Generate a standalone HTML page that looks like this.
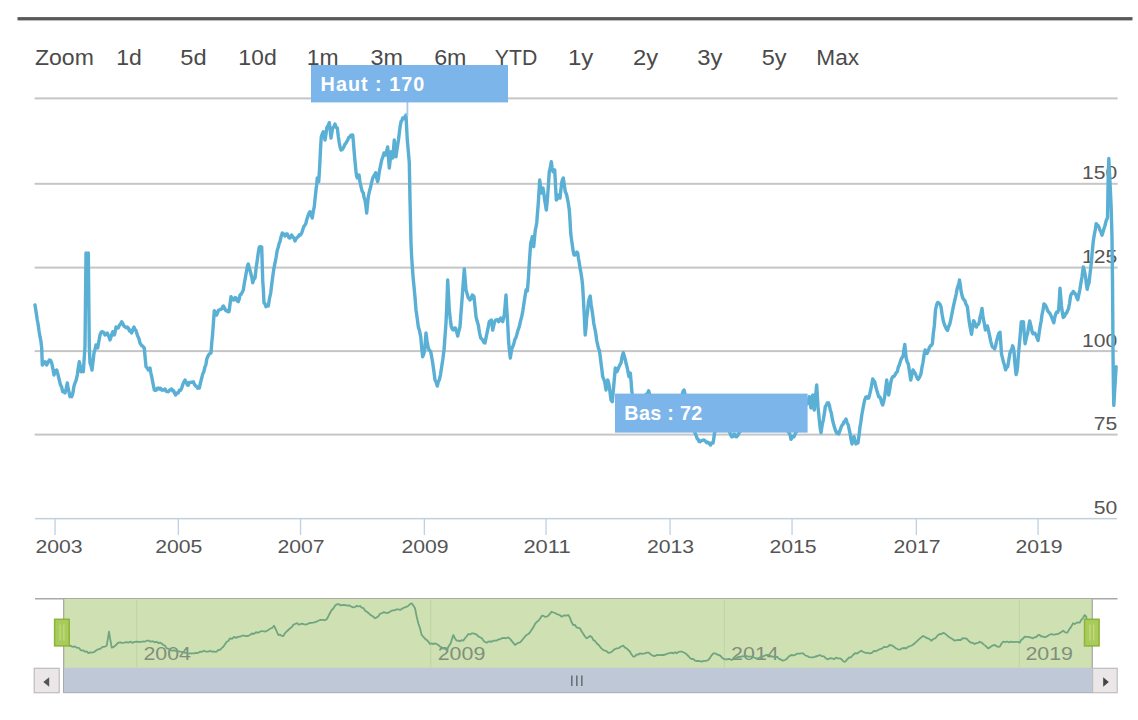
<!DOCTYPE html>
<html><head><meta charset="utf-8">
<style>
html,body{margin:0;padding:0;background:#fff;}
body{width:1138px;height:720px;overflow:hidden;position:relative;font-family:"Liberation Sans",sans-serif;}
svg{position:absolute;left:0;top:0;display:block;}
text{font-family:"Liberation Sans",sans-serif;}
</style></head><body>
<svg width="1138" height="720" viewBox="0 0 1138 720">
<rect x="0" y="0" width="1138" height="720" fill="#ffffff"/>
<!-- top rule -->
<rect x="17.5" y="17.1" width="1115" height="3.3" fill="#585858"/>

<rect x="34.6" y="97.4" width="1083" height="2" fill="#c6c6c6"/>
<rect x="34.6" y="182.8" width="1083" height="2" fill="#c6c6c6"/>
<rect x="34.6" y="266.6" width="1083" height="2" fill="#c6c6c6"/>
<rect x="34.6" y="350.1" width="1083" height="2" fill="#c6c6c6"/>
<rect x="34.6" y="433.6" width="1083" height="2" fill="#c6c6c6"/>
<rect x="35" y="517.9" width="1082" height="1.5" fill="#c0d0e0"/>
<rect x="54.4" y="518" width="1.3" height="17" fill="#c0d0e0"/>
<rect x="177.7" y="518" width="1.3" height="17" fill="#c0d0e0"/>
<rect x="299.9" y="518" width="1.3" height="17" fill="#c0d0e0"/>
<rect x="423.7" y="518" width="1.3" height="17" fill="#c0d0e0"/>
<rect x="545.4" y="518" width="1.3" height="17" fill="#c0d0e0"/>
<rect x="669.4" y="518" width="1.3" height="17" fill="#c0d0e0"/>
<rect x="791.4" y="518" width="1.3" height="17" fill="#c0d0e0"/>
<rect x="915.7" y="518" width="1.3" height="17" fill="#c0d0e0"/>
<rect x="1037.4" y="518" width="1.3" height="17" fill="#c0d0e0"/>
<text x="35" y="64.6" font-size="21.4" fill="#4a4a4a" textLength="58.8" lengthAdjust="spacingAndGlyphs">Zoom</text>
<text x="116.3" y="64.6" font-size="21.4" fill="#4a4a4a" textLength="25.6" lengthAdjust="spacingAndGlyphs">1d</text>
<text x="180.3" y="64.6" font-size="21.4" fill="#4a4a4a" textLength="26.3" lengthAdjust="spacingAndGlyphs">5d</text>
<text x="238.3" y="64.6" font-size="21.4" fill="#4a4a4a" textLength="38.5" lengthAdjust="spacingAndGlyphs">10d</text>
<text x="306.8" y="64.6" font-size="21.4" fill="#4a4a4a" textLength="31.8" lengthAdjust="spacingAndGlyphs">1m</text>
<text x="370.5" y="64.6" font-size="21.4" fill="#4a4a4a" textLength="32.5" lengthAdjust="spacingAndGlyphs">3m</text>
<text x="434.2" y="64.6" font-size="21.4" fill="#4a4a4a" textLength="32.3" lengthAdjust="spacingAndGlyphs">6m</text>
<text x="494.8" y="64.6" font-size="21.4" fill="#4a4a4a" textLength="42.5" lengthAdjust="spacingAndGlyphs">YTD</text>
<text x="568" y="64.6" font-size="21.4" fill="#4a4a4a" textLength="25.3" lengthAdjust="spacingAndGlyphs">1y</text>
<text x="633" y="64.6" font-size="21.4" fill="#4a4a4a" textLength="25.1" lengthAdjust="spacingAndGlyphs">2y</text>
<text x="697.2" y="64.6" font-size="21.4" fill="#4a4a4a" textLength="25.1" lengthAdjust="spacingAndGlyphs">3y</text>
<text x="761.7" y="64.6" font-size="21.4" fill="#4a4a4a" textLength="24.8" lengthAdjust="spacingAndGlyphs">5y</text>
<text x="816.3" y="64.6" font-size="21.4" fill="#4a4a4a" textLength="42.8" lengthAdjust="spacingAndGlyphs">Max</text>
<text x="1117.3" y="179.4" font-size="18.3" fill="#555" text-anchor="end" textLength="35.2" lengthAdjust="spacingAndGlyphs">150</text>
<text x="1117.3" y="263.2" font-size="18.3" fill="#555" text-anchor="end" textLength="35.2" lengthAdjust="spacingAndGlyphs">125</text>
<text x="1117.3" y="346.7" font-size="18.3" fill="#555" text-anchor="end" textLength="35.2" lengthAdjust="spacingAndGlyphs">100</text>
<text x="1117.3" y="430.2" font-size="18.3" fill="#555" text-anchor="end" textLength="23.5" lengthAdjust="spacingAndGlyphs">75</text>
<text x="1117.3" y="514.4" font-size="18.3" fill="#555" text-anchor="end" textLength="23.5" lengthAdjust="spacingAndGlyphs">50</text>
<text x="59.0" y="552.7" font-size="18.6" fill="#555" text-anchor="middle" textLength="47.2" lengthAdjust="spacingAndGlyphs">2003</text>
<text x="178.8" y="552.7" font-size="18.6" fill="#555" text-anchor="middle" textLength="47.2" lengthAdjust="spacingAndGlyphs">2005</text>
<text x="301.0" y="552.7" font-size="18.6" fill="#555" text-anchor="middle" textLength="47.2" lengthAdjust="spacingAndGlyphs">2007</text>
<text x="425.0" y="552.7" font-size="18.6" fill="#555" text-anchor="middle" textLength="47.2" lengthAdjust="spacingAndGlyphs">2009</text>
<text x="547.0" y="552.7" font-size="18.6" fill="#555" text-anchor="middle" textLength="47.2" lengthAdjust="spacingAndGlyphs">2011</text>
<text x="670.5" y="552.7" font-size="18.6" fill="#555" text-anchor="middle" textLength="47.2" lengthAdjust="spacingAndGlyphs">2013</text>
<text x="793.0" y="552.7" font-size="18.6" fill="#555" text-anchor="middle" textLength="47.2" lengthAdjust="spacingAndGlyphs">2015</text>
<text x="917.0" y="552.7" font-size="18.6" fill="#555" text-anchor="middle" textLength="47.2" lengthAdjust="spacingAndGlyphs">2017</text>
<text x="1039.0" y="552.7" font-size="18.6" fill="#555" text-anchor="middle" textLength="47.2" lengthAdjust="spacingAndGlyphs">2019</text>
<path d="M35.0 305.0 L36.1 312.0 L37.3 320.0 L38.2 324.7 L39.1 331.5 L40.0 336.7 L40.9 341.2 L41.7 348.0 L42.3 365.0 L43.2 364.0 L44.1 362.5 L45.0 361.7 L45.9 362.2 L46.7 365.0 L48.0 362.5 L49.3 360.0 L50.5 360.3 L51.7 363.0 L52.9 368.8 L54.0 375.0 L54.9 372.2 L55.8 370.6 L56.7 370.0 L58.0 374.8 L59.3 380.0 L60.4 384.7 L61.6 386.8 L62.7 391.7 L63.9 391.6 L65.0 393.0 L66.2 388.3 L67.3 383.0 L68.2 388.7 L69.1 392.3 L70.0 396.7 L70.8 396.4 L71.7 396.7 L72.8 393.4 L73.9 386.4 L75.0 383.0 L76.2 379.9 L77.3 375.0 L78.3 367.8 L79.3 361.7 L80.2 365.8 L81.0 371.7 L82.2 370.7 L83.3 371.7 L84.2 358.7 L85.0 346.7 L86.0 253.0 L87.2 253.8 L88.3 253.0 L89.3 346.7 L90.0 363.0 L91.0 365.7 L92.0 370.0 L93.0 361.7 L94.0 353.0 L95.0 349.4 L96.0 345.0 L96.8 346.2 L97.7 348.0 L98.8 341.6 L100.0 335.0 L100.9 332.8 L101.8 331.7 L102.7 331.7 L103.8 332.6 L105.0 335.0 L106.2 334.5 L107.3 333.0 L108.2 335.1 L109.1 337.2 L110.0 340.0 L110.9 337.5 L111.8 334.3 L112.7 331.7 L113.5 332.8 L114.3 335.0 L115.2 331.8 L116.0 327.0 L117.2 328.0 L118.3 328.0 L119.4 325.2 L120.6 324.0 L121.7 321.7 L122.8 323.4 L123.9 326.0 L125.0 326.7 L126.1 327.7 L127.2 327.0 L128.3 328.0 L129.4 330.9 L130.6 330.3 L131.7 333.0 L132.8 329.8 L134.0 327.0 L134.9 329.7 L135.8 330.1 L136.7 333.0 L137.8 336.3 L138.9 338.5 L140.0 343.0 L140.9 344.4 L141.8 345.7 L142.7 346.0 L143.5 347.2 L144.3 348.0 L145.2 358.3 L146.0 366.7 L147.2 367.9 L148.3 370.0 L149.2 369.5 L150.0 368.0 L150.8 372.6 L151.7 376.7 L152.6 381.3 L153.4 385.5 L154.3 390.0 L155.3 390.4 L156.3 390.2 L157.3 388.4 L158.3 388.0 L159.4 389.1 L160.6 388.2 L161.7 390.0 L162.8 390.2 L163.9 389.7 L165.0 389.0 L166.1 391.2 L167.2 391.6 L168.3 391.7 L169.4 390.2 L170.6 389.6 L171.7 389.0 L172.7 390.9 L173.7 390.8 L174.7 393.4 L175.7 395.0 L176.6 393.5 L177.4 392.7 L178.3 393.0 L179.4 390.2 L180.6 390.4 L181.7 388.0 L182.8 384.4 L183.9 382.0 L185.0 380.0 L186.2 382.2 L187.3 385.0 L188.2 385.2 L189.1 382.4 L190.0 382.7 L191.1 382.2 L192.2 382.2 L193.3 381.7 L194.4 384.4 L195.6 385.9 L196.7 386.7 L197.6 388.1 L198.4 387.0 L199.3 388.0 L200.5 382.8 L201.7 378.0 L202.8 373.9 L203.9 371.5 L205.0 366.7 L205.9 364.6 L206.8 359.1 L207.7 356.7 L208.8 354.6 L209.9 353.5 L211.0 353.0 L211.8 342.3 L212.7 333.0 L213.5 321.8 L214.3 310.7 L215.5 313.1 L216.7 315.0 L217.6 312.7 L218.4 310.4 L219.3 310.0 L220.5 309.3 L221.7 309.0 L222.5 307.2 L223.3 306.0 L224.4 307.7 L225.6 310.3 L226.7 310.7 L227.8 311.7 L229.0 311.7 L230.0 304.2 L231.0 296.7 L232.2 298.7 L233.3 300.0 L234.2 299.8 L235.1 297.5 L236.0 298.0 L237.2 300.9 L238.3 301.7 L239.2 299.1 L240.0 295.0 L241.1 294.3 L242.2 292.4 L243.3 290.0 L244.4 283.1 L245.6 276.4 L246.7 270.0 L247.5 266.0 L248.3 264.0 L249.5 268.8 L250.7 273.0 L251.7 276.7 L252.7 282.7 L253.8 279.2 L255.0 278.0 L256.1 268.2 L257.3 260.0 L258.3 252.6 L259.3 247.0 L260.5 246.6 L261.7 247.0 L262.7 280.0 L263.4 290.3 L264.0 303.0 L265.0 303.6 L266.0 306.7 L267.1 305.4 L268.3 306.0 L269.5 298.5 L270.7 293.0 L271.7 284.5 L272.7 276.7 L273.9 268.6 L275.0 263.0 L276.1 257.5 L277.3 250.0 L278.2 247.5 L279.1 243.6 L280.0 241.7 L281.1 236.7 L282.3 233.0 L283.2 233.6 L284.1 234.6 L285.0 236.0 L286.1 234.0 L287.3 234.0 L288.2 236.2 L289.1 237.9 L290.0 238.0 L290.9 236.4 L291.7 235.0 L292.8 237.0 L293.9 237.9 L295.0 241.0 L296.1 238.5 L297.2 237.6 L298.3 236.5 L299.4 234.7 L300.6 235.0 L301.7 233.0 L302.8 229.5 L303.9 226.4 L305.0 225.0 L305.9 223.4 L306.8 219.5 L307.7 216.7 L308.9 213.3 L310.0 211.7 L311.1 215.0 L312.3 218.0 L313.3 211.1 L314.3 206.7 L315.1 198.4 L316.0 190.0 L316.6 185.2 L317.3 178.0 L318.0 180.8 L318.7 181.7 L319.4 171.4 L320.0 160.0 L320.6 147.7 L321.3 136.7 L322.3 133.9 L323.3 131.7 L324.1 135.0 L325.0 140.0 L325.9 134.7 L326.7 128.0 L327.6 126.3 L328.4 125.2 L329.3 122.7 L330.1 129.9 L331.0 138.0 L331.9 132.3 L332.7 128.0 L333.9 126.8 L335.0 124.0 L336.1 127.3 L337.3 128.0 L338.3 136.4 L339.3 143.0 L340.1 147.3 L341.0 150.0 L342.0 149.7 L343.0 148.4 L344.0 146.7 L344.9 144.3 L345.8 143.4 L346.7 141.7 L347.8 139.8 L348.9 137.3 L350.0 137.0 L350.9 135.1 L351.8 135.1 L352.7 135.0 L353.4 141.9 L354.0 150.0 L355.0 161.4 L356.0 171.7 L356.6 176.0 L357.3 178.0 L358.1 176.4 L359.0 175.0 L360.0 182.0 L361.0 186.7 L362.1 191.1 L363.3 193.0 L364.1 197.7 L365.0 200.0 L365.9 206.1 L366.7 213.0 L367.5 204.1 L368.3 196.7 L369.5 191.0 L370.7 186.7 L371.6 182.6 L372.4 179.3 L373.3 176.7 L374.5 175.0 L375.7 172.7 L376.7 178.2 L377.7 181.7 L378.5 177.6 L379.3 171.7 L380.5 165.8 L381.7 160.0 L382.9 156.9 L384.0 153.0 L385.0 154.8 L386.0 155.0 L386.9 149.9 L387.7 147.0 L388.5 157.9 L389.3 168.0 L390.1 160.9 L391.0 151.7 L391.9 155.6 L392.7 158.0 L393.5 149.7 L394.3 140.0 L395.1 148.3 L396.0 156.7 L396.9 150.0 L397.7 145.0 L398.5 139.8 L399.3 133.0 L400.1 126.9 L401.0 121.7 L401.9 120.6 L402.7 118.0 L403.9 118.6 L405.0 116.7 L406.0 115.0 L406.6 127.2 L407.3 140.0 L408.3 151.2 L409.3 163.0 L410.0 200.0 L411.0 243.0 L411.6 256.0 L412.3 266.7 L413.1 277.3 L414.0 286.7 L415.0 297.5 L416.0 310.0 L417.1 317.4 L418.3 326.7 L419.5 330.8 L420.7 336.7 L421.7 347.8 L422.7 356.7 L423.7 354.1 L424.7 350.0 L425.4 340.6 L426.0 333.0 L427.0 340.7 L428.0 346.7 L428.9 349.6 L429.8 350.4 L430.7 351.7 L431.7 357.0 L432.7 363.0 L433.9 371.6 L435.0 380.0 L436.1 382.0 L437.3 386.0 L438.3 381.7 L439.3 380.0 L440.5 374.6 L441.7 366.7 L442.9 358.7 L444.0 350.0 L445.0 336.6 L446.0 323.0 L446.9 302.6 L447.7 280.0 L448.5 294.8 L449.3 310.0 L450.3 319.3 L451.3 326.7 L452.3 329.2 L453.3 330.0 L454.3 328.2 L455.3 328.0 L456.5 331.4 L457.7 336.0 L458.9 330.8 L460.0 326.7 L461.0 312.7 L462.0 300.0 L463.1 284.7 L464.3 269.0 L465.1 278.9 L466.0 290.0 L467.1 293.8 L468.3 298.0 L469.1 298.0 L470.0 300.0 L471.1 298.6 L472.3 295.0 L473.1 295.5 L474.0 296.7 L475.0 306.6 L476.0 316.7 L477.1 321.1 L478.3 325.0 L479.5 332.6 L480.7 338.0 L481.7 338.8 L482.7 340.0 L483.9 342.6 L485.0 343.0 L486.1 337.4 L487.3 331.7 L488.3 326.8 L489.3 321.7 L490.3 320.9 L491.3 320.0 L492.0 323.7 L492.7 330.0 L493.7 325.7 L494.7 321.7 L495.7 320.0 L496.7 320.0 L497.7 319.6 L498.7 321.7 L499.7 320.6 L500.7 318.0 L501.7 319.0 L502.7 321.7 L503.5 318.3 L504.3 315.0 L505.1 305.6 L506.0 295.0 L506.6 306.0 L507.3 316.7 L508.0 329.4 L508.7 343.0 L509.5 350.5 L510.3 358.0 L511.1 353.1 L512.0 348.0 L513.0 346.2 L514.0 343.0 L514.9 339.3 L515.8 337.8 L516.7 335.0 L518.0 330.2 L519.3 326.7 L520.5 321.1 L521.7 316.7 L522.9 310.6 L524.0 303.0 L525.0 296.5 L526.0 290.0 L527.3 291.0 L528.3 280.0 L529.3 263.0 L530.0 253.2 L530.7 243.0 L531.5 240.5 L532.3 236.7 L533.0 242.8 L533.7 246.7 L534.5 238.2 L535.3 230.0 L536.0 226.8 L536.7 223.0 L537.5 213.0 L538.3 203.0 L539.0 191.5 L539.7 180.0 L540.5 187.0 L541.3 193.0 L542.1 190.4 L543.0 188.0 L543.9 194.1 L544.7 200.0 L545.5 204.9 L546.3 210.0 L547.0 203.6 L547.7 195.0 L548.5 183.9 L549.3 171.7 L550.3 167.7 L551.3 161.7 L552.1 167.8 L553.0 171.7 L553.9 170.2 L554.7 170.0 L555.5 185.2 L556.3 200.0 L557.3 198.7 L558.3 195.0 L559.1 197.4 L560.0 198.0 L560.9 189.6 L561.7 183.0 L562.5 179.5 L563.3 178.0 L564.3 184.7 L565.3 191.7 L566.3 193.7 L567.3 198.0 L568.3 203.3 L569.3 210.0 L570.0 220.4 L570.7 233.0 L571.5 239.4 L572.3 245.0 L573.1 250.7 L574.0 255.0 L575.0 255.0 L576.0 253.0 L576.9 252.1 L577.7 253.0 L578.5 258.6 L579.3 263.0 L580.1 268.4 L581.0 273.0 L581.9 278.9 L582.7 286.7 L584.0 310.0 L585.2 335.0 L586.0 327.5 L586.7 318.0 L587.6 311.1 L588.5 301.7 L589.4 298.1 L590.2 296.0 L591.1 304.2 L592.0 310.0 L592.9 316.2 L593.7 323.0 L594.7 328.0 L595.7 333.0 L596.7 340.3 L597.7 345.0 L598.5 348.4 L599.3 350.0 L600.1 355.6 L601.0 363.0 L601.9 369.7 L602.7 376.7 L603.7 379.2 L604.7 381.7 L606.0 390.0 L606.9 384.6 L607.7 380.0 L608.5 382.6 L609.3 386.7 L610.1 392.9 L611.0 400.0 L612.3 401.7 L613.1 392.9 L614.0 383.0 L615.3 368.0 L616.1 368.6 L617.0 371.7 L618.0 369.3 L619.0 366.7 L620.0 364.7 L621.0 363.0 L622.1 356.6 L623.3 352.7 L624.3 355.9 L625.3 360.0 L626.3 364.3 L627.3 368.0 L628.1 372.4 L629.0 376.7 L630.3 373.0 L631.0 380.4 L631.7 390.0 L632.7 398.0 L633.8 403.3 L634.9 406.7 L636.0 410.0 L637.0 410.0 L638.0 406.5 L639.0 405.6 L640.0 405.0 L641.0 402.1 L642.0 402.2 L643.0 399.2 L644.0 398.0 L645.2 395.2 L646.4 394.1 L647.5 393.6 L648.7 390.7 L649.8 395.3 L650.9 397.6 L652.0 402.0 L653.2 403.6 L654.5 408.1 L655.8 409.7 L657.0 412.0 L658.2 414.0 L659.5 413.9 L660.8 415.3 L662.0 418.0 L663.2 416.9 L664.4 414.6 L665.6 412.1 L666.8 412.7 L668.0 410.0 L669.2 409.1 L670.4 408.4 L671.6 405.3 L672.8 406.1 L674.0 404.0 L675.2 401.7 L676.4 402.5 L677.6 400.3 L678.8 398.8 L680.0 398.0 L681.0 396.1 L682.0 395.1 L683.0 391.4 L684.0 390.0 L685.0 394.0 L686.0 400.1 L687.0 405.0 L688.0 409.3 L689.0 414.0 L690.0 420.0 L691.0 421.8 L692.0 424.2 L693.0 428.0 L694.0 429.7 L695.0 433.0 L696.1 435.5 L697.3 439.0 L698.2 439.4 L699.1 441.5 L700.0 441.7 L701.1 440.6 L702.2 440.6 L703.3 440.0 L704.4 440.1 L705.6 441.4 L706.7 442.7 L708.0 442.2 L709.2 443.6 L710.5 445.0 L711.8 442.7 L713.0 443.0 L713.8 438.6 L714.5 433.0 L715.7 430.5 L716.8 426.9 L718.0 425.0 L719.0 425.7 L720.0 427.6 L721.0 426.2 L722.0 428.0 L723.0 427.8 L724.0 425.8 L725.0 425.0 L726.0 424.0 L727.0 427.1 L728.0 428.2 L729.0 430.8 L730.0 433.0 L730.9 435.3 L731.7 436.7 L732.9 436.6 L734.0 434.0 L734.9 434.5 L735.8 436.7 L736.7 436.7 L737.9 435.4 L739.0 433.0 L740.2 431.1 L741.5 428.3 L742.8 425.9 L744.0 424.0 L745.2 421.6 L746.4 420.6 L747.6 419.3 L748.8 419.8 L750.0 418.0 L751.2 418.2 L752.4 418.7 L753.6 419.3 L754.8 422.1 L756.0 422.0 L757.2 421.0 L758.4 418.4 L759.6 415.4 L760.8 413.3 L762.0 412.0 L763.2 413.1 L764.4 415.1 L765.6 415.9 L766.8 418.3 L768.0 420.0 L769.2 418.4 L770.4 419.2 L771.6 418.2 L772.8 416.1 L774.0 415.0 L775.2 416.1 L776.4 419.8 L777.6 419.9 L778.8 421.8 L780.0 424.0 L781.2 423.7 L782.5 425.7 L783.8 426.9 L785.0 428.0 L786.1 429.3 L787.1 429.7 L788.2 431.8 L789.3 433.0 L790.1 434.9 L791.0 439.3 L792.0 437.8 L793.0 436.5 L794.0 436.7 L794.9 434.8 L795.8 432.2 L796.7 431.7 L797.9 424.6 L799.0 420.0 L800.0 414.5 L801.0 409.3 L802.0 405.0 L803.0 402.9 L804.0 400.4 L805.0 398.0 L806.1 401.7 L807.3 404.0 L808.3 400.8 L809.3 396.7 L810.1 402.9 L811.0 408.0 L811.9 402.5 L812.7 395.0 L813.5 402.2 L814.3 410.0 L815.5 397.0 L816.7 385.0 L818.0 406.7 L819.3 420.0 L820.1 427.6 L821.0 432.7 L822.1 425.4 L823.3 420.0 L824.3 413.9 L825.3 406.7 L826.3 405.2 L827.3 403.0 L828.3 402.8 L829.3 405.0 L830.3 409.9 L831.3 413.0 L832.3 419.0 L833.3 423.0 L834.2 426.2 L835.1 429.4 L836.0 431.7 L836.9 433.3 L837.8 432.3 L838.7 434.0 L840.0 430.4 L841.3 426.7 L842.2 425.0 L843.1 424.2 L844.0 421.7 L845.0 421.1 L846.0 419.0 L847.1 422.8 L848.3 425.0 L849.1 429.2 L850.0 433.0 L851.0 439.5 L852.0 444.0 L853.0 440.8 L854.0 436.7 L855.0 440.9 L856.0 444.0 L857.0 442.8 L858.0 443.0 L859.3 433.0 L860.0 426.8 L860.7 423.0 L861.7 415.5 L862.7 410.0 L863.7 404.6 L864.7 400.0 L865.7 397.3 L866.7 396.7 L867.7 398.2 L868.7 398.0 L869.7 394.2 L870.7 390.0 L871.7 384.8 L872.7 379.0 L873.7 380.7 L874.7 381.7 L875.7 386.3 L876.7 390.0 L877.7 393.3 L878.7 396.7 L879.7 396.6 L880.7 399.0 L881.7 402.8 L882.7 405.0 L883.7 401.5 L884.7 396.7 L885.7 388.4 L886.7 380.0 L887.7 387.6 L888.7 395.0 L889.7 389.4 L890.7 383.0 L891.7 378.7 L892.7 376.7 L893.9 376.5 L895.0 375.0 L896.1 372.7 L897.3 371.7 L898.3 367.2 L899.3 365.0 L900.5 360.9 L901.7 358.0 L902.5 357.1 L903.3 355.0 L904.0 349.0 L904.8 344.5 L905.5 351.9 L906.2 358.0 L907.2 362.0 L908.2 363.6 L909.5 371.8 L910.7 380.0 L911.9 374.7 L913.0 370.0 L914.2 371.9 L915.5 374.0 L916.4 376.3 L917.3 378.4 L918.2 379.5 L919.1 378.0 L920.0 376.2 L920.9 374.0 L922.0 367.2 L923.0 362.5 L924.0 355.3 L925.1 350.0 L926.0 351.1 L927.0 353.5 L928.1 351.3 L929.3 347.9 L930.3 346.0 L931.4 345.3 L932.4 343.7 L933.3 333.6 L934.3 326.0 L935.5 310.0 L936.7 304.5 L937.7 302.5 L938.7 302.8 L939.9 304.1 L941.0 306.7 L942.1 314.3 L943.3 321.0 L944.4 324.5 L945.5 327.0 L946.5 329.2 L947.5 330.5 L948.6 326.7 L949.8 324.0 L950.8 319.5 L951.7 315.0 L952.7 309.9 L953.7 305.0 L955.0 299.4 L956.2 294.0 L957.1 289.0 L958.0 286.0 L958.8 284.0 L959.5 280.0 L960.3 284.9 L961.1 291.4 L962.0 295.4 L962.9 298.1 L963.8 299.7 L964.8 300.5 L965.9 303.9 L966.6 305.3 L967.4 307.0 L968.3 314.5 L969.2 321.6 L970.1 327.0 L970.8 330.5 L971.5 334.3 L972.5 326.9 L973.6 320.7 L974.5 322.0 L975.5 326.1 L976.4 327.0 L977.3 324.8 L978.2 324.4 L979.1 322.8 L980.1 317.1 L981.0 313.3 L982.0 308.5 L982.9 315.8 L983.7 320.7 L984.5 324.4 L985.4 330.0 L986.4 328.8 L987.4 325.9 L988.5 330.6 L989.5 335.3 L990.8 341.6 L992.0 345.8 L992.9 347.4 L993.7 347.2 L994.6 348.9 L995.5 346.5 L996.4 341.9 L997.3 338.5 L998.2 335.2 L999.1 333.0 L1000.0 332.2 L1000.8 343.1 L1001.5 354.0 L1002.5 358.1 L1003.6 362.5 L1004.6 365.6 L1005.6 369.8 L1006.7 367.3 L1007.7 366.7 L1008.8 359.9 L1009.8 354.0 L1010.7 350.8 L1011.7 349.4 L1012.6 345.8 L1013.3 347.6 L1014.0 352.0 L1015.0 364.0 L1016.1 374.6 L1016.9 371.5 L1017.6 366.7 L1018.4 355.3 L1019.2 345.8 L1020.2 334.9 L1021.3 321.7 L1022.3 322.3 L1023.4 321.7 L1024.2 333.7 L1025.1 343.7 L1026.3 337.9 L1027.6 333.2 L1028.7 326.8 L1029.7 321.0 L1031.0 326.3 L1032.2 332.2 L1033.1 333.8 L1034.0 333.1 L1034.9 333.2 L1036.0 335.3 L1037.0 337.9 L1038.1 340.5 L1039.1 333.3 L1040.2 326.1 L1041.2 320.7 L1042.1 314.1 L1043.0 310.4 L1043.9 303.9 L1045.2 304.9 L1046.4 307.0 L1047.7 310.8 L1049.0 312.3 L1049.9 313.4 L1050.8 315.2 L1051.7 317.5 L1052.8 320.2 L1053.8 322.8 L1054.8 317.2 L1055.9 313.3 L1056.8 311.9 L1057.7 312.4 L1058.6 310.2 L1059.3 300.2 L1060.0 288.2 L1060.8 297.9 L1061.5 306.0 L1062.3 312.1 L1063.2 317.5 L1064.5 316.5 L1065.7 313.3 L1066.6 313.1 L1067.5 310.7 L1068.4 309.2 L1069.5 303.5 L1070.5 296.6 L1071.4 293.7 L1072.3 293.7 L1073.2 291.4 L1074.5 292.8 L1075.7 294.5 L1076.8 297.8 L1077.8 299.7 L1078.8 294.9 L1079.9 289.3 L1081.0 282.4 L1082.0 276.7 L1083.3 267.0 L1084.4 270.8 L1085.6 277.0 L1086.4 284.3 L1087.2 289.3 L1088.1 285.2 L1089.0 283.0 L1090.2 272.4 L1091.4 262.0 L1092.3 251.1 L1093.3 241.0 L1094.3 234.7 L1095.2 230.0 L1096.2 223.6 L1097.2 226.1 L1098.1 225.6 L1099.1 227.5 L1100.1 230.5 L1101.0 232.1 L1102.0 235.2 L1103.0 232.1 L1104.0 228.5 L1105.0 225.5 L1106.2 220.7 L1107.5 217.7 L1108.2 179.0 L1108.8 158.5 L1109.8 179.0 L1110.5 192.6 L1111.2 208.0 L1112.0 237.2 L1112.5 280.0 L1112.8 320.0 L1113.0 351.0 L1113.4 385.5 L1113.8 405.4 L1115.0 385.5 L1116.1 366.7" fill="none" stroke="#5aafd5" stroke-width="3.4" stroke-linejoin="round" stroke-linecap="round"/>
<rect x="406.5" y="102" width="1.8" height="14" fill="#a4c8ee"/>
<rect x="311" y="65" width="197" height="37.4" fill="#7cb5ea"/>
<text x="320.6" y="90.5" font-size="19.8" font-weight="bold" fill="#ffffff" textLength="103.6" lengthAdjust="spacing">Haut : 170</text>
<rect x="615" y="393.6" width="192.6" height="39" fill="#7cb5ea"/>
<text x="624.3" y="420.4" font-size="19.8" font-weight="bold" fill="#ffffff" textLength="78" lengthAdjust="spacing">Bas : 72</text>
<rect x="35" y="598" width="1082.5" height="1.5" fill="#a9a9a9"/>
<rect x="63.3" y="599" width="1029" height="69" fill="#cfe1b2"/>
<rect x="63" y="599" width="1.3" height="94" fill="#a9aaa5"/>
<rect x="1091.6" y="599" width="1.3" height="69" fill="#a9aaa5"/>
<rect x="136.2" y="599.5" width="1" height="68" fill="#bfd3a4"/>
<rect x="430.2" y="599.5" width="1" height="68" fill="#bfd3a4"/>
<rect x="723.8" y="599.5" width="1" height="68" fill="#bfd3a4"/>
<rect x="1018.8" y="599.5" width="1" height="68" fill="#bfd3a4"/>
<text x="143.4" y="660" font-size="18.6" fill="#7f8f7c" textLength="47.6" lengthAdjust="spacingAndGlyphs">2004</text>
<text x="437.7" y="660" font-size="18.6" fill="#7f8f7c" textLength="47.6" lengthAdjust="spacingAndGlyphs">2009</text>
<text x="731.1" y="660" font-size="18.6" fill="#7f8f7c" textLength="47.6" lengthAdjust="spacingAndGlyphs">2014</text>
<text x="1025.4" y="660" font-size="18.6" fill="#7f8f7c" textLength="47.6" lengthAdjust="spacingAndGlyphs">2019</text>
<path d="M63.3 643.3 L65.0 643.4 L66.7 644.6 L68.3 644.9 L70.0 645.7 L71.7 646.4 L73.3 646.9 L75.0 646.4 L76.7 647.7 L78.8 647.8 L80.8 650.3 L82.9 650.3 L85.0 651.7 L86.7 651.5 L88.3 653.1 L90.0 652.4 L91.7 652.7 L93.9 652.2 L96.1 650.4 L98.3 649.3 L100.4 648.7 L102.5 646.9 L104.6 646.8 L106.7 645.7 L107.8 639.4 L109.0 631.7 L110.3 639.7 L111.7 647.7 L113.8 646.8 L115.8 645.3 L117.9 642.9 L120.0 642.3 L122.1 642.9 L124.2 642.7 L126.2 642.2 L128.3 642.7 L130.4 641.6 L132.5 642.9 L134.6 641.9 L136.7 641.7 L138.7 641.9 L140.7 642.0 L142.7 641.5 L144.7 641.7 L146.7 640.7 L148.7 640.7 L150.7 641.6 L152.7 641.2 L154.7 642.3 L156.7 641.7 L158.3 643.2 L160.0 642.6 L161.7 643.5 L163.3 645.0 L165.0 645.7 L166.7 648.3 L168.3 648.6 L170.0 650.0 L172.0 650.6 L174.0 650.3 L176.0 651.0 L178.0 651.2 L180.0 651.7 L182.0 651.8 L184.0 652.5 L186.0 652.8 L188.0 653.7 L190.0 653.3 L192.0 653.3 L194.0 653.4 L196.0 653.0 L198.0 652.9 L200.0 651.7 L202.0 651.8 L204.0 650.7 L206.0 651.7 L208.0 651.7 L210.0 650.7 L211.7 651.7 L213.3 651.3 L215.0 651.8 L216.7 651.7 L218.3 649.9 L220.0 649.8 L221.7 648.1 L223.3 646.7 L225.0 644.2 L226.7 641.7 L228.3 641.0 L230.0 638.3 L232.0 638.9 L234.0 636.9 L236.0 637.9 L238.0 636.9 L240.0 636.7 L242.0 635.7 L244.0 635.6 L246.0 636.2 L248.0 636.0 L250.0 635.0 L252.0 633.5 L254.0 633.9 L256.0 632.2 L258.0 632.8 L260.0 631.7 L262.1 631.0 L264.1 631.5 L266.2 631.3 L268.3 630.0 L270.2 628.6 L272.1 628.0 L274.0 625.7 L276.1 630.0 L278.3 635.0 L280.0 634.6 L281.6 635.8 L283.3 636.0 L285.0 633.2 L286.6 631.5 L288.3 630.0 L290.0 628.3 L291.6 627.2 L293.3 624.9 L295.0 624.0 L297.1 623.2 L299.1 624.7 L301.2 623.7 L303.3 624.0 L305.3 624.6 L307.3 624.2 L309.3 623.0 L311.3 622.9 L313.3 622.7 L315.0 622.1 L316.6 621.6 L318.3 620.8 L320.0 620.0 L321.7 619.9 L323.4 619.9 L325.0 620.3 L326.7 619.3 L328.4 616.2 L330.0 613.0 L331.7 610.0 L333.4 608.5 L335.0 605.7 L336.7 604.3 L338.8 604.1 L340.9 605.5 L342.9 604.9 L345.0 605.0 L347.1 605.7 L349.1 605.3 L351.2 606.6 L353.3 607.3 L355.0 607.1 L356.6 605.8 L358.3 606.5 L360.0 606.0 L361.7 607.7 L363.4 608.1 L365.0 610.5 L366.7 611.7 L368.8 613.3 L370.9 615.3 L372.9 616.4 L375.0 618.3 L376.7 617.4 L378.4 616.2 L380.0 613.7 L381.7 613.3 L383.8 612.1 L385.9 612.8 L387.9 612.9 L390.0 611.7 L391.7 610.7 L393.4 610.4 L395.0 610.1 L396.7 609.3 L398.4 609.3 L400.0 610.0 L401.7 608.9 L403.4 608.0 L405.0 607.3 L406.7 606.7 L408.4 605.7 L410.0 604.1 L411.7 603.3 L413.4 605.6 L415.0 608.3 L416.6 616.3 L418.3 623.3 L420.0 628.3 L421.7 635.0 L423.4 636.8 L425.0 638.8 L426.7 640.0 L428.4 641.7 L430.0 644.0 L431.7 643.3 L433.3 644.1 L435.0 643.3 L436.7 644.0 L438.3 645.0 L440.0 646.7 L441.7 647.4 L443.4 648.7 L445.0 648.5 L446.7 650.0 L448.7 646.3 L450.7 643.3 L452.0 638.9 L453.3 635.0 L455.0 638.5 L456.7 640.7 L458.4 640.6 L460.0 641.3 L461.6 640.1 L463.3 640.7 L465.0 638.2 L466.6 636.5 L468.3 634.0 L470.0 634.5 L471.6 633.4 L473.3 633.3 L475.0 633.8 L476.6 634.6 L478.3 636.4 L480.0 637.3 L481.7 638.1 L483.4 640.6 L485.0 642.0 L486.7 642.7 L488.4 641.6 L490.0 641.3 L491.6 641.8 L493.3 640.7 L495.0 640.6 L496.6 640.6 L498.3 639.4 L500.0 639.3 L502.1 638.1 L504.1 637.9 L506.2 638.3 L508.3 637.3 L510.0 638.8 L511.6 640.9 L513.3 642.9 L515.0 645.0 L516.7 643.8 L518.4 642.7 L520.0 642.5 L521.7 640.7 L523.9 637.8 L526.1 635.3 L528.3 634.0 L530.0 632.3 L531.6 629.7 L533.3 627.4 L535.0 624.0 L536.7 621.9 L538.4 620.8 L540.0 618.8 L541.7 616.0 L543.4 615.7 L545.0 616.9 L546.7 616.7 L548.4 615.6 L550.0 613.7 L551.7 611.7 L553.4 612.5 L555.0 612.9 L556.7 614.0 L558.4 614.6 L560.0 615.3 L561.7 616.7 L563.9 615.4 L566.1 615.7 L568.3 615.0 L570.0 617.9 L571.6 622.2 L573.3 625.0 L575.0 625.0 L576.6 627.4 L578.3 627.8 L580.0 628.3 L581.7 631.6 L583.4 634.0 L585.0 636.5 L586.7 638.3 L588.4 637.3 L590.0 636.0 L591.7 636.9 L593.4 640.1 L595.0 640.9 L596.7 643.3 L598.9 645.2 L601.1 648.1 L603.3 650.0 L605.0 650.7 L606.6 651.2 L608.3 652.8 L610.0 652.7 L611.7 651.8 L613.4 650.2 L615.0 649.0 L616.7 648.3 L618.9 648.1 L621.1 646.5 L623.3 645.7 L625.0 647.6 L626.6 648.3 L628.3 650.0 L630.0 651.7 L631.6 654.5 L633.3 656.7 L635.0 656.4 L636.6 654.4 L638.3 654.7 L640.0 653.3 L641.7 653.9 L643.4 653.6 L645.0 653.4 L646.7 652.7 L648.8 652.6 L650.9 654.6 L652.9 655.8 L655.0 656.0 L657.1 654.9 L659.1 655.1 L661.2 654.8 L663.3 655.0 L665.4 654.5 L667.5 653.7 L669.6 653.2 L671.7 652.7 L673.4 653.4 L675.0 652.2 L676.7 653.3 L678.4 652.0 L680.0 651.6 L681.7 651.7 L683.9 652.5 L686.1 653.8 L688.3 656.0 L690.0 658.0 L691.6 659.0 L693.3 658.8 L695.0 660.7 L696.7 661.0 L698.4 660.9 L700.0 661.1 L701.7 661.7 L703.9 660.9 L706.1 660.8 L708.3 660.0 L710.0 657.9 L711.6 655.3 L713.3 653.3 L715.0 653.3 L716.6 654.1 L718.3 655.0 L720.0 655.4 L721.6 657.2 L723.3 658.6 L725.0 659.3 L726.7 659.3 L728.4 658.9 L730.0 659.2 L731.7 660.0 L733.9 658.7 L736.1 658.0 L738.3 656.7 L740.4 657.0 L742.5 656.1 L744.6 656.7 L746.7 656.0 L748.6 656.6 L750.5 656.6 L752.4 656.9 L754.2 657.5 L756.1 658.3 L758.0 658.3 L760.1 657.3 L762.1 657.0 L764.2 655.8 L766.3 655.0 L768.4 655.0 L770.5 655.9 L772.6 656.6 L774.7 656.7 L776.8 656.9 L778.9 658.6 L780.9 659.6 L783.0 660.7 L785.1 660.0 L787.1 658.6 L789.2 656.2 L791.3 655.0 L793.3 655.4 L795.3 654.8 L797.3 653.6 L799.3 653.6 L801.3 653.3 L803.3 653.4 L805.3 655.5 L807.3 656.0 L809.3 657.2 L811.3 657.3 L813.4 657.3 L815.5 656.5 L817.6 656.0 L819.7 655.0 L821.8 656.2 L823.9 656.4 L825.9 658.4 L828.0 659.3 L830.0 658.2 L832.0 658.3 L834.0 659.2 L836.0 657.7 L838.0 658.3 L839.8 658.4 L841.6 659.3 L843.5 661.5 L845.3 661.7 L847.2 659.4 L849.1 657.5 L851.1 657.3 L853.0 655.0 L855.1 653.2 L857.1 653.5 L859.2 652.1 L861.3 650.7 L863.4 652.0 L865.5 652.8 L867.6 652.8 L869.7 653.3 L871.8 653.0 L873.9 650.8 L875.9 651.3 L878.0 650.0 L880.0 649.2 L881.9 648.7 L883.9 646.8 L885.8 647.1 L887.8 646.6 L889.7 645.0 L891.8 645.3 L893.9 646.8 L895.9 648.3 L898.0 649.3 L900.1 649.6 L902.1 648.3 L904.2 648.0 L906.3 648.3 L908.4 646.6 L910.5 646.0 L912.6 645.0 L914.7 643.3 L916.8 641.3 L918.9 639.4 L920.9 637.6 L923.0 636.0 L925.1 636.9 L927.1 638.2 L929.2 638.8 L931.3 640.7 L933.4 639.0 L935.5 638.2 L937.6 635.5 L939.7 634.0 L941.4 634.2 L943.0 632.9 L944.7 633.3 L946.7 635.1 L948.7 636.7 L950.7 638.1 L952.7 639.3 L954.7 640.7 L956.7 640.2 L958.7 640.0 L960.7 640.0 L962.7 638.1 L964.7 638.3 L966.7 638.7 L968.7 641.0 L970.7 642.5 L972.7 642.9 L974.7 644.0 L976.4 643.1 L978.0 642.9 L979.7 641.7 L981.8 642.8 L983.9 644.6 L985.9 646.1 L988.0 648.3 L989.7 647.6 L991.4 646.3 L993.0 645.3 L994.7 645.0 L996.4 645.9 L998.0 646.9 L999.7 646.7 L1001.4 643.8 L1003.0 641.7 L1005.1 642.1 L1007.1 641.5 L1009.2 642.3 L1011.3 641.7 L1013.4 642.1 L1015.5 641.8 L1017.6 641.9 L1019.7 642.7 L1021.4 639.8 L1023.0 638.7 L1024.7 636.7 L1026.8 636.9 L1028.8 636.9 L1030.9 637.6 L1033.0 638.3 L1034.7 637.2 L1036.3 637.1 L1038.0 635.2 L1039.7 635.0 L1041.4 636.7 L1043.0 636.5 L1044.7 637.3 L1046.9 636.4 L1049.1 635.0 L1051.3 634.0 L1053.0 634.6 L1054.7 634.6 L1056.3 634.1 L1058.0 634.0 L1059.7 632.9 L1061.3 632.2 L1063.0 630.7 L1065.2 632.3 L1067.3 632.7 L1069.2 629.4 L1071.1 626.9 L1073.0 623.3 L1074.7 624.0 L1076.3 622.9 L1078.0 622.4 L1079.7 622.7 L1081.4 619.7 L1083.0 618.0 L1084.7 615.0 L1086.3 616.7 L1088.0 640.0 L1090.0 632.0" fill="none" stroke="#70a582" stroke-width="1.8" stroke-linejoin="round"/>
<rect x="64" y="667.8" width="1028" height="24.8" fill="#bfc8d6"/>
<rect x="63" y="692" width="1030" height="1.2" fill="#aeb3ba"/>
<rect x="571" y="675.5" width="1.6" height="10.5" fill="#6b7079"/>
<rect x="576" y="675.5" width="1.6" height="10.5" fill="#6b7079"/>
<rect x="581" y="675.5" width="1.6" height="10.5" fill="#6b7079"/>
<rect x="34.2" y="668.3" width="25" height="24.4" fill="#ebe7e8" stroke="#bdbdbd" stroke-width="1.2"/>
<path d="M43.3 682 L49.2 677.3 L49.2 686.7 Z" fill="#555"/>
<rect x="1092.6" y="668.3" width="24.6" height="24.4" fill="#ebe7e8" stroke="#bdbdbd" stroke-width="1.2"/>
<path d="M1108.8 682 L1103.2 677.3 L1103.2 686.7 Z" fill="#444"/>
<rect x="54.6" y="619.3" width="14.6" height="26.6" fill="#a8cb5b" stroke="#8db339" stroke-width="1.5"/>
<rect x="59.6" y="624.5" width="1" height="16" fill="#c9e08f"/>
<rect x="63.4" y="624.5" width="1" height="16" fill="#c9e08f"/>
<rect x="1084.5" y="619.3" width="14.6" height="26.6" fill="#a8cb5b" stroke="#8db339" stroke-width="1.5"/>
<rect x="1089.5" y="624.5" width="1" height="16" fill="#c9e08f"/>
<rect x="1093.3" y="624.5" width="1" height="16" fill="#c9e08f"/>
</svg></body></html>
